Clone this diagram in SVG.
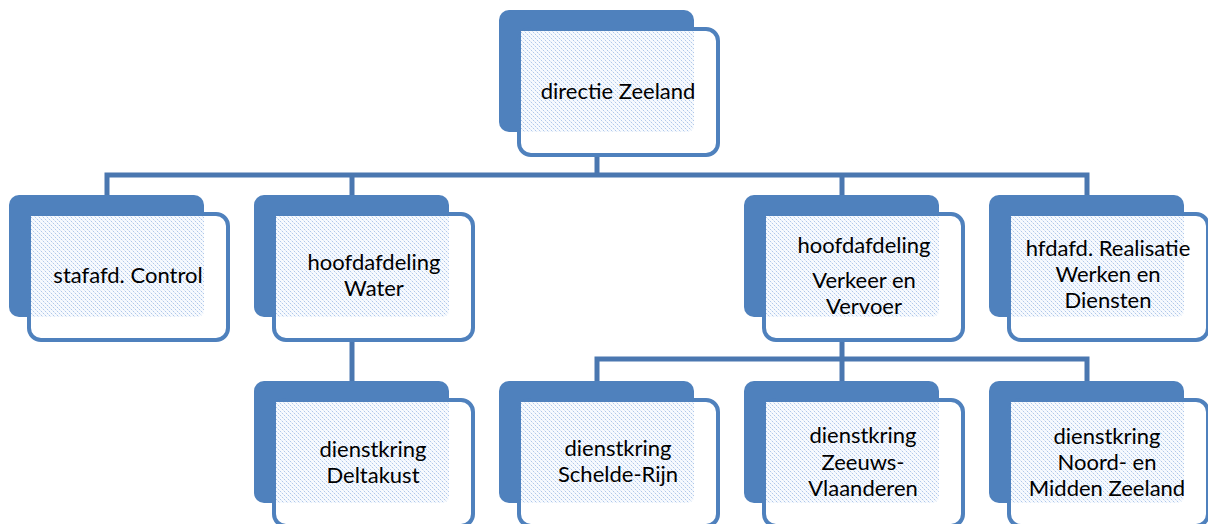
<svg xmlns="http://www.w3.org/2000/svg" width="1208" height="524" viewBox="0 0 1208 524">
<style>
.back{fill:#4F81BD}
.front{fill:#FFFFFF;stroke:#4F81BD;stroke-width:4}
.pat{fill:url(#dots)}
.conn{fill:none;stroke:#4A77B0;stroke-width:5}
text{font-family:Lato,"Open Sans","Liberation Sans",sans-serif;font-size:22px;fill:#000;text-anchor:middle}
</style>
<defs>
<pattern id="dots" width="4" height="4" patternUnits="userSpaceOnUse">
<rect width="4" height="4" fill="#F7FAFE"/>
<rect x="0" y="0" width="1" height="1" fill="#B0C8EA"/>
<rect x="2" y="2" width="1" height="1" fill="#B0C8EA"/>
<rect x="1" y="1" width="1" height="1" fill="#DDE8F7"/>
<rect x="3" y="3" width="1" height="1" fill="#DDE8F7"/>
</pattern>
<g id="box">
<rect class="back" x="0" y="0" width="195" height="122" rx="10"/>
<rect class="front" x="20" y="19" width="199" height="126" rx="12"/>
<path class="pat" d="M22,21 H195 V114 Q195,122 187,122 H22 Z"/>
</g>
</defs>
<g id="connectors">
<path class="conn" d="M597,150 V175"/>
<path class="conn" d="M107,195 V175 H1087 V195 M352,175 V195 M842,175 V195"/>
<path class="conn" d="M352,340 V381"/>
<path class="conn" d="M842,340 V359 M597,381 V359 H1087 V381 M842,359 V381"/>
</g>
<g id="n-directie" transform="translate(499,10)"><use href="#box"/><text x="119" y="89">directie Zeeland</text></g>
<g id="n-stafafd" transform="translate(9,195)"><use href="#box"/><text x="119" y="88">stafafd. Control</text></g>
<g id="n-water" transform="translate(254,195)"><use href="#box"/><text x="120" y="75">hoofdafdeling</text><text x="120" y="101">Water</text></g>
<g id="n-verkeer" transform="translate(744,195)"><use href="#box"/><text x="120" y="58">hoofdafdeling</text><text x="120" y="93">Verkeer en</text><text x="120" y="119">Vervoer</text></g>
<g id="n-realisatie" transform="translate(989,195)"><use href="#box"/><text x="119" y="61">hfdafd. Realisatie</text><text x="119" y="87">Werken en</text><text x="119" y="113">Diensten</text></g>
<g id="n-deltakust" transform="translate(254,381)"><use href="#box"/><text x="119" y="76">dienstkring</text><text x="119" y="102">Deltakust</text></g>
<g id="n-schelde" transform="translate(499,381)"><use href="#box"/><text x="119" y="75">dienstkring</text><text x="119" y="101">Schelde-Rijn</text></g>
<g id="n-zeeuws" transform="translate(744,381)"><use href="#box"/><text x="119" y="62">dienstkring</text><text x="119" y="89">Zeeuws-</text><text x="119" y="115">Vlaanderen</text></g>
<g id="n-noord" transform="translate(989,381)"><use href="#box"/><text x="118" y="63">dienstkring</text><text x="118" y="89">Noord- en</text><text x="118" y="115">Midden Zeeland</text></g>
</svg>
